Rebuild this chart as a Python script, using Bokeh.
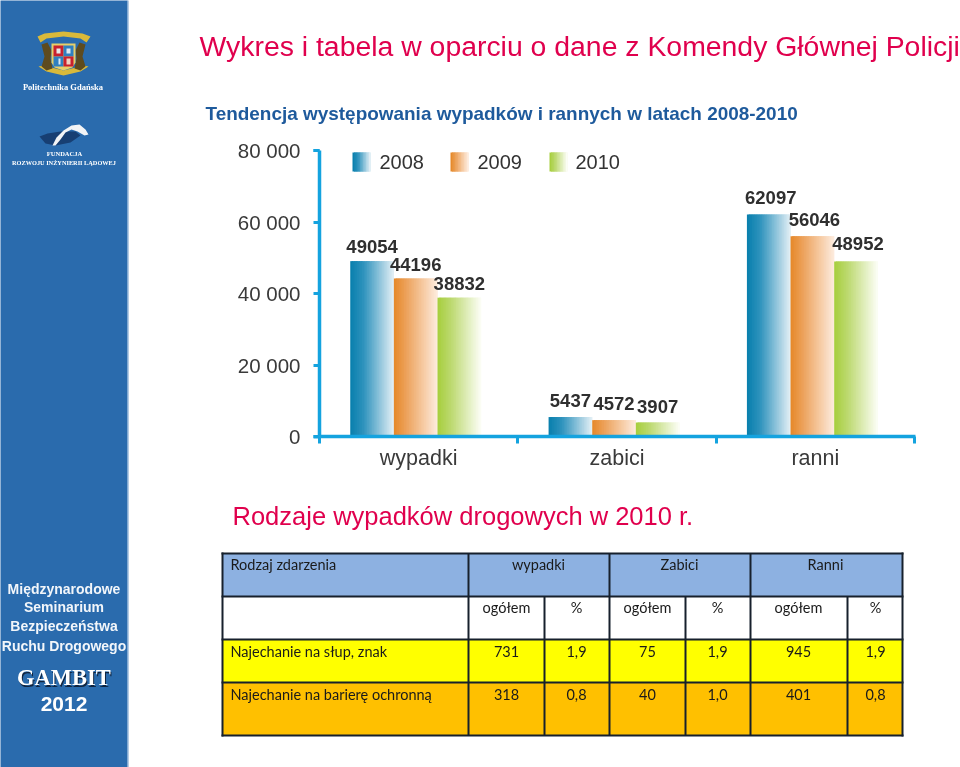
from bokeh.plotting import figure
from bokeh.embed import file_html
from bokeh.resources import INLINE
from bokeh.core.properties import value
from bokeh.models import BoxAnnotation, Label, PolyAnnotation, FixedTicker, LinearAxis, Range1d

# ---- data ----
categories = ["wypadki", "zabici", "ranni"]
years = ["2008", "2009", "2010"]
s2008 = [49054, 5437, 62097]
s2009 = [44196, 4572, 56046]
s2010 = [38832, 3907, 48952]
y_ticks = [0, 20000, 40000, 60000, 80000]
y_tick_labels = ["0", "20 000", "40 000", "60 000", "80 000"]

title_main = "Wykres i tabela w oparciu o dane z Komendy Głównej Policji"
title_chart = "Tendencja występowania wypadków i rannych w latach 2008-2010"
title_table = "Rodzaje wypadków drogowych w 2010 r."

table_head = ["Rodzaj zdarzenia", "wypadki", "Zabici", "Ranni"]
table_sub = ["ogółem", "%", "ogółem", "%", "ogółem", "%"]
row1_name = "Najechanie na słup, znak"
row1_vals = ["731", "1,9", "75", "1,9", "945", "1,9"]
row2_name = "Najechanie na barierę ochronną"
row2_vals = ["318", "0,8", "40", "1,0", "401", "0,8"]

# ---- style ----
AXIS = "#14a3df"
STOPS = [
    [(0, "#0a80ae"), (0.3, "#2f93bd"), (1, "#dfedf4")],
    [(0, "#e68a2c"), (0.3, "#eda45f"), (1, "#fdeadb")],
    [(0, "#a8cf40"), (0.3, "#bcd96f"), (1, "#fbfdf4")],
]
LABEL_OFFSET = [[15, 14, 14], [17, 17, 16], [17, 17, 18]]
LABEL_DX = [0, 0, 2]
BAR_OFF = [0.155, 0.375, 0.595]
BAR_W = 0.22
N = 26


def hex2rgb(h):
    return tuple(int(h[i:i + 2], 16) for i in (1, 3, 5))


def ramp(stops, t):
    for (a, ca), (b, cb) in zip(stops, stops[1:]):
        if t <= b:
            f = (t - a) / (b - a)
            ra, rb = hex2rgb(ca), hex2rgb(cb)
            return "#%02x%02x%02x" % tuple(round(x + (y - x) * f) for x, y in zip(ra, rb))
    return stops[-1][1]


W, H = 960, 767
FL, FR, FT, FB = 319, 915, 150, 436
GROUPS = 3.005
ux = (FR - FL) / GROUPS
uy = (FB - FT) / 80000
p = figure(width=W, height=H, output_backend="svg", toolbar_location=None,
           x_range=Range1d(-FL / ux, (W - FL) / ux), y_range=Range1d(-(H - FB) / uy, FB / uy),
           min_border=0, x_axis_type=None, y_axis_type=None,
           background_fill_color="white", border_fill_color="white", outline_line_color=None)
p.styles = {"position": "fixed", "left": "0", "top": "0"}
p.grid.visible = False

ya = LinearAxis(fixed_location=0, bounds=(0, 80000))
ya.ticker = FixedTicker(ticks=y_ticks)
ya.major_label_overrides = dict(zip(y_ticks, y_tick_labels))
ya.axis_line_color = AXIS
ya.axis_line_width = 3.5
ya.major_tick_line_color = AXIS
ya.major_tick_line_width = 3
ya.major_tick_out = 6
ya.major_tick_in = 0
ya.minor_tick_line_color = None
ya.major_label_standoff = 13
ya.major_label_text_font = "Liberation Sans"
ya.major_label_text_font_size = "20.5px"
ya.major_label_text_color = "#3a3a3a"
p.add_layout(ya, "left")

xa = LinearAxis(fixed_location=0, bounds=(0, GROUPS))
mids = [i + 0.5 for i in range(len(categories))]
xa.ticker = FixedTicker(ticks=mids, minor_ticks=list(range(len(categories) + 1)))
xa.major_label_overrides = dict(zip(mids, categories))
xa.axis_line_color = AXIS
xa.axis_line_width = 3.5
xa.major_tick_line_color = None
xa.major_tick_out = 0
xa.major_tick_in = 0
xa.minor_tick_line_color = AXIS
xa.minor_tick_line_width = 3
xa.minor_tick_out = 7
xa.minor_tick_in = 0
xa.major_label_standoff = 2
xa.major_label_text_font = "Liberation Sans"
xa.major_label_text_font_size = "21.5px"
xa.major_label_text_color = "#3a3a3a"
p.add_layout(xa, "below")

# gradient bars: slices overlap the next one so no seams show
for s, series in enumerate([s2008, s2009, s2010]):
    L, R, T, C = [], [], [], []
    for i, v in enumerate(series):
        x0 = i + BAR_OFF[s]
        for k in range(N):
            L.append(x0 + BAR_W * k / N)
            R.append(x0 + BAR_W * min(k + 2, N) / N)
            T.append(v)
            C.append(ramp(STOPS[s], k / (N - 1)))
    p.quad(left=L, right=R, top=T, bottom=[0] * len(L), fill_color=C, line_color=None)
    p.text(x=[i + BAR_OFF[s] + BAR_W / 2 for i in range(3)], y=series,
           text=[str(v) for v in series],
           x_offset=[LABEL_DX[i] for i in range(3)], y_offset=[-LABEL_OFFSET[i][s] for i in range(3)],
           text_align="center", text_baseline="middle",
           text_font=value("Liberation Sans"), text_font_style="bold", text_font_size="18.5px",
           text_color="#2f2f2f")


def c(x, y, text, size, color="#000000", font="Liberation Sans", style="normal", align="center"):
    p.add_layout(Label(x=x, y=y, x_units="canvas", y_units="canvas", text=text, text_font=font,
                       text_font_size=f"{size}px", text_font_style=style, text_color=color,
                       text_align=align, text_baseline="middle"))


def box(l, t, r, b, color, alpha=1.0):
    p.add_layout(BoxAnnotation(left=l, right=r, top=t, bottom=b, left_units="canvas", right_units="canvas",
                               top_units="canvas", bottom_units="canvas", fill_color=color, fill_alpha=alpha,
                               line_color=None, level="underlay"))


def poly(xs, ys, color, alpha=1.0, line=None, lw=1):
    p.add_layout(PolyAnnotation(xs=xs, ys=ys, xs_units="canvas", ys_units="canvas", fill_color=color,
                                fill_alpha=alpha, line_color=line, line_width=lw, level="underlay"))


# axis stubs
box(313, 434.5, 319, 438, AXIS)
box(313, 148.5, 319, 151.5, AXIS)

# legend
for s, (yr, lx, tx) in enumerate(zip(years, [352, 450, 549], [379, 477, 575])):
    n = 12
    for k in range(n):
        box(lx + 18 * k / n, 152, lx + 18 * min(k + 2, n) / n, 171, ramp(STOPS[s], k / (n - 1)))
    c(tx, 161, yr, 20, "#333333", align="left")

# titles
c(199, 45, title_main, 28.4, "#e0004d", align="left")
c(205, 113, title_chart, 18.95, "#1e5a9c", style="bold", align="left")
c(232, 515, title_table, 25.5, "#e0004d", align="left")

# sidebar
box(-3, -3, 127, 770, "#2a6bad")
box(127, -3, 128, 770, "#6f9ccb")

# crest
poly([37, 44, 63, 82, 90, 86, 80, 63, 46, 40], [36, 33, 31, 33, 36, 42, 38, 36, 38, 42], "#d9b93a")
poly([38, 46, 63, 80, 88, 83, 63, 43], [66, 71, 75, 71, 66, 65, 70, 65], "#d9b93a")
poly([41, 47, 51, 50, 52, 46, 41, 44], [44, 42, 50, 58, 68, 70, 66, 56], "#5e4b1f")
poly([85, 79, 75, 76, 74, 80, 85, 82], [44, 42, 50, 58, 68, 70, 66, 56], "#5e4b1f")
poly([51, 75, 75, 72, 63, 54, 51], [43, 43, 62, 67, 70, 67, 62], "#e6cf6a")
box(53, 45, 63, 56, "#c8202e")
box(63, 45, 73, 56, "#2f7fc0")
box(53, 56, 63, 66, "#2f7fc0")
box(63, 56, 73, 66, "#c8202e")
box(56, 48, 60, 53, "#e6e6e6")
box(66, 48, 70, 53, "#dbe7ef")
box(58, 58, 60, 64, "#dbe7ef")
box(66, 58, 70, 64, "#f0d0c0")
c(63.5, 86, "Politechnika  Gdańska", 8.5, "#ffffff", font="Liberation Serif", style="bold")

# bridge
poly([39, 47, 60, 75, 80, 70, 55, 45], [136, 133, 131, 131, 135, 142, 145, 143], "#173f73")
poly([52, 56, 63, 71, 79, 85, 88, 84, 77, 71, 65, 60, 55],
     [145, 137, 130, 125, 124, 129, 134, 135, 131, 129, 132, 139, 145], "#f2f4f6")
c(64, 153, "FUNDACJA", 6.5, "#ffffff", font="Liberation Serif", style="bold")
c(63.5, 162, "ROZWOJU INŻYNIERII LĄDOWEJ", 6.3, "#ffffff", font="Liberation Serif", style="bold")

# lower sidebar text
for txt, y in zip(["Międzynarodowe", "Seminarium", "Bezpieczeństwa", "Ruchu Drogowego"], [588, 606.5, 625.5, 645]):
    c(63.5, y, txt, 14, "#f2f6fa", font="Liberation Sans", style="bold")
c(64.5, 678.5, "GAMBIT", 22.5, "#10243f", font="Liberation Serif", style="bold")
c(63.5, 677, "GAMBIT", 22.5, "#ffffff", font="Liberation Serif", style="bold")
c(63.5, 703, "2012", 21, "#ffffff", font="Liberation Sans", style="bold")

# table
T_L, T_R = 222, 902
ROW_Y = [553, 596, 639, 682, 735]
COLS = [468, 544, 609, 685, 750, 847]
box(T_L, 553, T_R, 596, "#8db1e1")
box(T_L, 596, T_R, 639, "#ffffff")
box(T_L, 639, T_R, 682, "#ffff00")
box(T_L, 682, T_R, 735, "#ffc000")
LC = "#17202c"
for y in ROW_Y:
    box(T_L - 1, y - 1, T_R + 1, y + 1, LC)
box(T_L - 1, 552, T_L + 1, 736, LC)
box(T_R - 1, 552, T_R + 1, 736, LC)
for x in [COLS[0], COLS[2], COLS[4]]:
    box(x - 1, 553, x + 1, 735, LC)
for x in [COLS[1], COLS[3], COLS[5]]:
    box(x - 1, 596, x + 1, 735, LC)

TF = "Lato"
TS = 14.5
TC = "#1a1a1a"
c(230, 564, table_head[0], TS, TC, font=TF, align="left")
for txt, x in zip(table_head[1:], [538, 679, 825]):
    c(x, 564, txt, TS, TC, font=TF)
CX = [506, 576, 647, 717, 798, 875]
for vals, y in zip([table_sub, row1_vals, row2_vals], [607, 651, 694]):
    for txt, x in zip(vals, CX):
        c(x, y, txt, TS, TC, font=TF)
c(230, 651, row1_name, TS, TC, font=TF, align="left")
c(230, 694, row2_name, TS, TC, font=TF, align="left")

open("out.html", "w").write(file_html(p, INLINE))
